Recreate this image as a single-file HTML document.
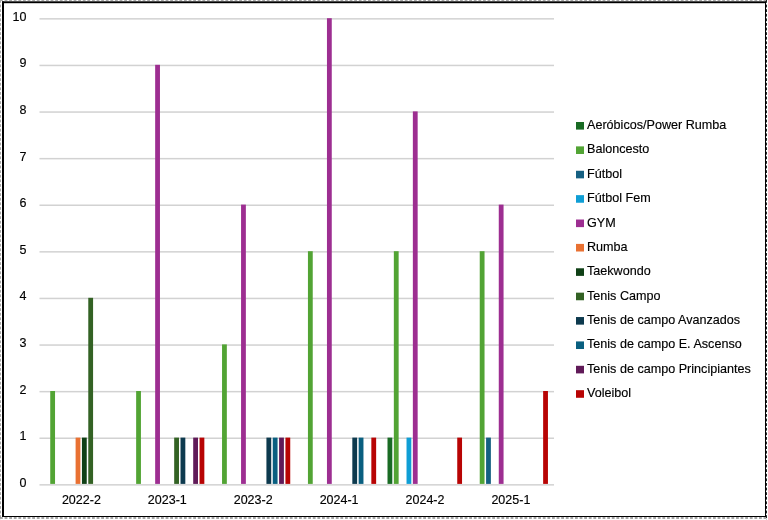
<!DOCTYPE html>
<html><head><meta charset="utf-8"><style>
html,body{margin:0;padding:0;background:#fff;}
body{width:768px;height:520px;overflow:hidden;}
svg{display:block;will-change:transform;}
text{font-family:"Liberation Sans",sans-serif;font-size:12.5px;fill:#000;stroke:#000;stroke-width:0.15px;}
</style></head><body>
<svg width="768" height="520" viewBox="0 0 768 520">
<rect x="0" y="0" width="768" height="520" fill="#fff"/>

<rect x="39.5" y="484.10" width="514.5" height="1.5" fill="#d2d2d2"/>
<rect x="39.5" y="437.50" width="514.5" height="1.5" fill="#d2d2d2"/>
<rect x="39.5" y="390.90" width="514.5" height="1.5" fill="#d2d2d2"/>
<rect x="39.5" y="344.30" width="514.5" height="1.5" fill="#d2d2d2"/>
<rect x="39.5" y="297.70" width="514.5" height="1.5" fill="#d2d2d2"/>
<rect x="39.5" y="251.10" width="514.5" height="1.5" fill="#d2d2d2"/>
<rect x="39.5" y="204.50" width="514.5" height="1.5" fill="#d2d2d2"/>
<rect x="39.5" y="157.90" width="514.5" height="1.5" fill="#d2d2d2"/>
<rect x="39.5" y="111.30" width="514.5" height="1.5" fill="#d2d2d2"/>
<rect x="39.5" y="64.70" width="514.5" height="1.5" fill="#d2d2d2"/>
<rect x="39.5" y="18.10" width="514.5" height="1.5" fill="#d2d2d2"/>
<rect x="50.24" y="391.00" width="4.8" height="92.90" fill="#52A434"/>
<rect x="75.60" y="437.60" width="4.8" height="46.30" fill="#E97132"/>
<rect x="81.94" y="437.60" width="4.8" height="46.30" fill="#0F4016"/>
<rect x="88.28" y="297.80" width="4.8" height="186.10" fill="#336224"/>
<rect x="136.14" y="391.00" width="4.8" height="92.90" fill="#52A434"/>
<rect x="155.16" y="64.80" width="4.8" height="419.10" fill="#9D2E91"/>
<rect x="174.18" y="437.60" width="4.8" height="46.30" fill="#336224"/>
<rect x="180.52" y="437.60" width="4.8" height="46.30" fill="#0D3A4E"/>
<rect x="193.20" y="437.60" width="4.8" height="46.30" fill="#601A58"/>
<rect x="199.54" y="437.60" width="4.8" height="46.30" fill="#B80404"/>
<rect x="222.04" y="344.40" width="4.8" height="139.50" fill="#52A434"/>
<rect x="241.06" y="204.60" width="4.8" height="279.30" fill="#9D2E91"/>
<rect x="266.42" y="437.60" width="4.8" height="46.30" fill="#0D3A4E"/>
<rect x="272.76" y="437.60" width="4.8" height="46.30" fill="#095F80"/>
<rect x="279.10" y="437.60" width="4.8" height="46.30" fill="#601A58"/>
<rect x="285.44" y="437.60" width="4.8" height="46.30" fill="#B80404"/>
<rect x="307.94" y="251.20" width="4.8" height="232.70" fill="#52A434"/>
<rect x="326.96" y="18.20" width="4.8" height="465.70" fill="#9D2E91"/>
<rect x="352.32" y="437.60" width="4.8" height="46.30" fill="#0D3A4E"/>
<rect x="358.66" y="437.60" width="4.8" height="46.30" fill="#095F80"/>
<rect x="371.34" y="437.60" width="4.8" height="46.30" fill="#B80404"/>
<rect x="387.50" y="437.60" width="4.8" height="46.30" fill="#196B24"/>
<rect x="393.84" y="251.20" width="4.8" height="232.70" fill="#52A434"/>
<rect x="406.52" y="437.60" width="4.8" height="46.30" fill="#0F9ED5"/>
<rect x="412.86" y="111.40" width="4.8" height="372.50" fill="#9D2E91"/>
<rect x="457.24" y="437.60" width="4.8" height="46.30" fill="#B80404"/>
<rect x="479.74" y="251.20" width="4.8" height="232.70" fill="#52A434"/>
<rect x="486.08" y="437.60" width="4.8" height="46.30" fill="#156082"/>
<rect x="498.76" y="204.60" width="4.8" height="279.30" fill="#9D2E91"/>
<rect x="543.14" y="391.00" width="4.8" height="92.90" fill="#B80404"/>
<text x="26.5" y="486.70" text-anchor="end">0</text>
<text x="26.5" y="440.10" text-anchor="end">1</text>
<text x="26.5" y="393.50" text-anchor="end">2</text>
<text x="26.5" y="346.90" text-anchor="end">3</text>
<text x="26.5" y="300.30" text-anchor="end">4</text>
<text x="26.5" y="253.70" text-anchor="end">5</text>
<text x="26.5" y="207.10" text-anchor="end">6</text>
<text x="26.5" y="160.50" text-anchor="end">7</text>
<text x="26.5" y="113.90" text-anchor="end">8</text>
<text x="26.5" y="67.30" text-anchor="end">9</text>
<text x="26.5" y="20.70" text-anchor="end">10</text>
<text x="81.40" y="503.9" text-anchor="middle">2022-2</text>
<text x="167.30" y="503.9" text-anchor="middle">2023-1</text>
<text x="253.20" y="503.9" text-anchor="middle">2023-2</text>
<text x="339.10" y="503.9" text-anchor="middle">2024-1</text>
<text x="425.00" y="503.9" text-anchor="middle">2024-2</text>
<text x="510.90" y="503.9" text-anchor="middle">2025-1</text>
<rect x="576" y="122.00" width="8" height="7.6" fill="#196B24"/>
<text x="587" y="129.00" style="font-size:12.6px">Aeróbicos/Power Rumba</text>
<rect x="576" y="146.38" width="8" height="7.6" fill="#52A434"/>
<text x="587" y="153.38" style="font-size:12.6px">Baloncesto</text>
<rect x="576" y="170.76" width="8" height="7.6" fill="#156082"/>
<text x="587" y="177.76" style="font-size:12.6px">Fútbol</text>
<rect x="576" y="195.14" width="8" height="7.6" fill="#0F9ED5"/>
<text x="587" y="202.14" style="font-size:12.6px">Fútbol Fem</text>
<rect x="576" y="219.52" width="8" height="7.6" fill="#9D2E91"/>
<text x="587" y="226.52" style="font-size:12.6px">GYM</text>
<rect x="576" y="243.90" width="8" height="7.6" fill="#E97132"/>
<text x="587" y="250.90" style="font-size:12.6px">Rumba</text>
<rect x="576" y="268.28" width="8" height="7.6" fill="#0F4016"/>
<text x="587" y="275.28" style="font-size:12.6px">Taekwondo</text>
<rect x="576" y="292.66" width="8" height="7.6" fill="#336224"/>
<text x="587" y="299.66" style="font-size:12.6px">Tenis Campo</text>
<rect x="576" y="317.04" width="8" height="7.6" fill="#0D3A4E"/>
<text x="587" y="324.04" style="font-size:12.6px">Tenis de campo Avanzados</text>
<rect x="576" y="341.42" width="8" height="7.6" fill="#095F80"/>
<text x="587" y="348.42" style="font-size:12.6px">Tenis de campo E. Ascenso</text>
<rect x="576" y="365.80" width="8" height="7.6" fill="#601A58"/>
<text x="587" y="372.80" style="font-size:12.6px">Tenis de campo Principiantes</text>
<rect x="576" y="390.18" width="8" height="7.6" fill="#B80404"/>
<text x="587" y="397.18" style="font-size:12.6px">Voleibol</text>
<rect x="2" y="1.3" width="764" height="1.9" fill="#000"/>
<rect x="2" y="1.5" width="2" height="515.5" fill="#000"/>
<rect x="765" y="1.5" width="1" height="515.5" fill="#000"/>
<rect x="2" y="516" width="764" height="1" fill="#000"/>
<line x1="0" y1="0.5" x2="768" y2="0.5" stroke="#a8a8a8" stroke-width="1" stroke-dasharray="2.8 1.8"/>
<line x1="0.5" y1="0" x2="0.5" y2="520" stroke="#a8a8a8" stroke-width="1" stroke-dasharray="2.8 1.8"/>
<line x1="0" y1="518" x2="768" y2="518" stroke="#8a8a8a" stroke-width="1.3" stroke-dasharray="2.8 1.8"/>
<line x1="766.5" y1="0" x2="766.5" y2="520" stroke="#222" stroke-width="1" stroke-dasharray="2.8 1.8"/>
</svg>
</body></html>
